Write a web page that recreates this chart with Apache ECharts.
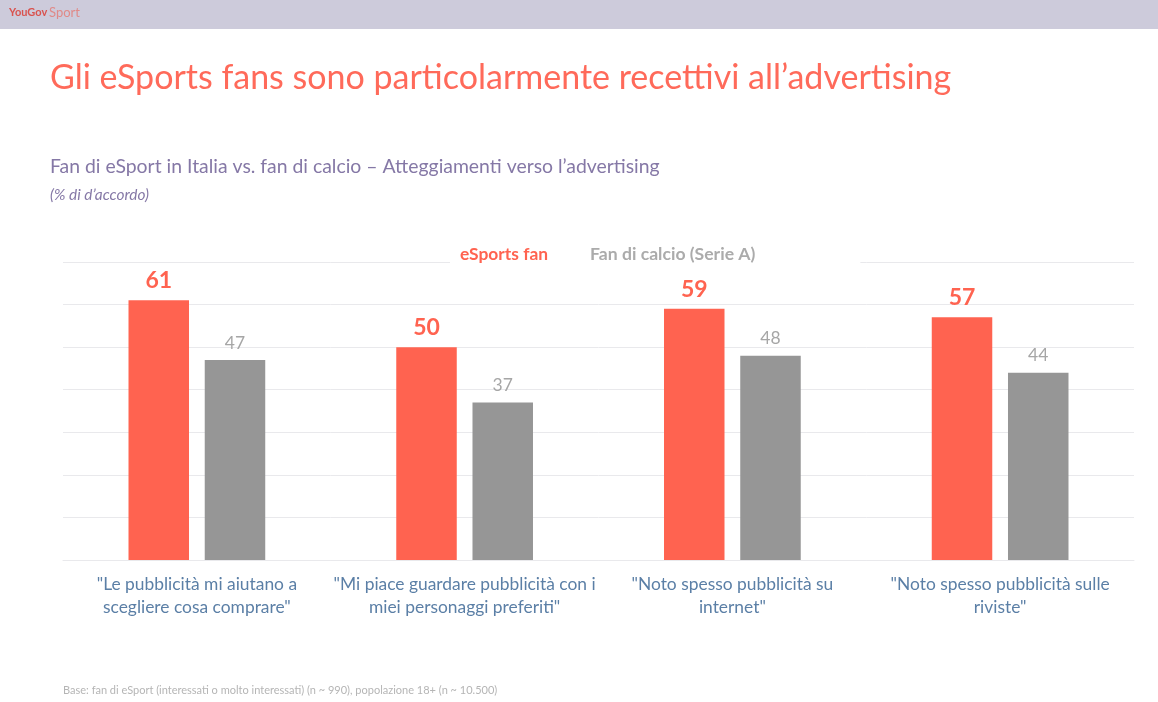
<!DOCTYPE html>
<html lang="it">
<head>
    <meta charset="UTF-8">
    <title>eSports fan</title>
    <style type="text/css">
        html, body { margin: 0; padding: 0; background: #fff; }
        #box { width: 1158px; height: 702px; }
    </style>
</head>
<body>
<div id="box"></div>
<script type="text/javascript" src="https://cdn.jsdelivr.net/npm/echarts@6/dist/echarts.min.js"></script>
<script type="text/javascript">
    const categories = [
        '"Le pubblicità mi aiutano a\nscegliere cosa comprare"',
        '"Mi piace guardare pubblicità con i\nmiei personaggi preferiti"',
        '"Noto spesso pubblicità su\ninternet"',
        '"Noto spesso pubblicità sulle\nriviste"'
    ];
    const esportsName = 'eSports fan';
    const calcioName = 'Fan di calcio (Serie A)';
    const esportsValues = [61, 50, 59, 57];
    const calcioValues = [47, 37, 48, 44];

    const fontName = 'Lato';
    const coral = '#ff6350';
    const grey = '#969696';

    let myChart = echarts.init(document.getElementById('box'), null, {renderer: 'canvas'});
    let option = {
        animation: false,
        backgroundColor: '#fff',
        textStyle: {fontFamily: fontName},
        graphic: [
            // banner on top
            {type: 'rect', z: 0, shape: {x: 0, y: 0, width: 1158, height: 29}, style: {fill: '#cdcbdb'}},
            {type: 'text', z: 1, left: 9, top: 7, style: {text: 'YouGov', fill: '#d9534f', font: 'bold 11px ' + fontName}},
            {type: 'text', z: 1, left: 49, top: 6, style: {text: 'Sport', fill: '#e08a88', font: '13px ' + fontName}}
        ],
        title: [
            {
                text: 'Gli eSports fans sono particolarmente recettivi all’advertising',
                left: 50, top: 61, padding: 0,
                textStyle: {fontSize: 34, fontWeight: 'normal', color: '#ff6a5a', fontFamily: fontName}
            },
            {
                text: 'Fan di eSport in Italia vs. fan di calcio – Atteggiamenti verso l’advertising',
                left: 50, top: 157, padding: 0,
                textStyle: {fontSize: 19.4, fontWeight: 'normal', color: '#8578a6', fontFamily: fontName}
            },
            {
                text: '(% di d’accordo)',
                left: 50, top: 188, padding: 0,
                textStyle: {fontSize: 15.4, fontWeight: 'normal', fontStyle: 'italic', color: '#8578a6', fontFamily: fontName}
            },
            {
                text: 'Base: fan di eSport (interessati o molto interessati) (n ~ 990), popolazione 18+ (n ~ 10.500)',
                left: 63, top: 685, padding: 0,
                textStyle: {fontSize: 11, fontWeight: 'normal', color: '#b5b5b5', fontFamily: fontName}
            }
        ],
        legend: {
            left: 450,
            top: 242,
            padding: [3, 105, 6, 5],
            backgroundColor: '#fff',
            icon: 'none',
            itemWidth: 0,
            itemGap: 37,
            selectedMode: false,
            data: [
                {name: esportsName, textStyle: {color: coral, fontSize: 17.4, fontWeight: 'bold', fontFamily: fontName}},
                {name: calcioName, textStyle: {color: '#ababab', fontSize: 17.6, fontWeight: 'bold', fontFamily: fontName}}
            ]
        },
        grid: {left: 63, right: 24, top: 262, bottom: 142},
        xAxis: {
            type: 'category',
            data: categories,
            axisTick: {show: false},
            axisLine: {lineStyle: {color: '#e9e9ec', width: 1}},
            axisLabel: {
                color: '#5b7fa6', fontSize: 17.4, lineHeight: 23, margin: 13, interval: 0, fontFamily: fontName
            }
        },
        yAxis: {
            type: 'value',
            min: 0,
            max: 70,
            interval: 10,
            axisLine: {show: false},
            axisTick: {show: false},
            axisLabel: {show: false},
            splitLine: {lineStyle: {color: '#e9e9ec', width: 1}}
        },
        series: [
            {
                name: esportsName,
                type: 'bar',
                data: esportsValues,
                barWidth: 60.5,
                barGap: '26%',
                itemStyle: {color: coral},
                label: {
                    show: true, position: 'top', distance: 8,
                    color: coral, fontSize: 23, fontWeight: 'bold', fontFamily: fontName
                }
            },
            {
                name: calcioName,
                type: 'bar',
                data: calcioValues,
                barWidth: 60.5,
                itemStyle: {color: grey},
                label: {
                    show: true, position: 'top', distance: 8,
                    color: '#a6a6a6', fontSize: 17.5, fontFamily: fontName
                }
            }
        ]
    };
    myChart.setOption(option);
</script>
</body>
</html>
